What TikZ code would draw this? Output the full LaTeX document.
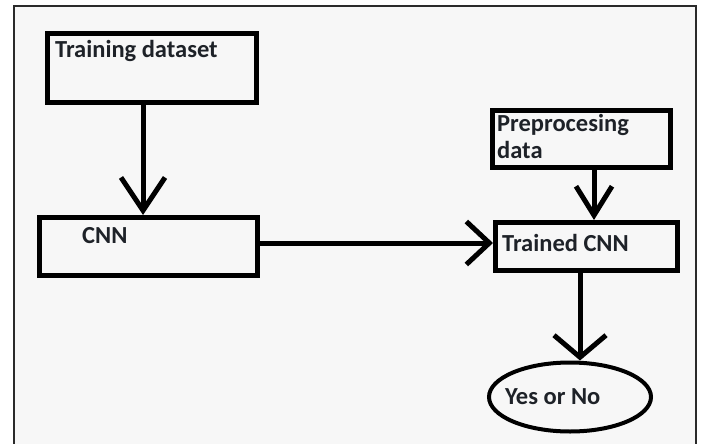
\documentclass[tikz,border=0pt]{standalone}
\usepackage{fontspec}
\setmainfont{Carlito}
\usetikzlibrary{arrows.meta,shapes.geometric}
\definecolor{bggray}{HTML}{F7F7F7}
\definecolor{framegray}{HTML}{2A2A2A}
\definecolor{txt}{HTML}{1E2228}
\tikzset{
  box/.style={draw=black, line width=5pt, rectangle, inner sep=0pt},
  oval/.style={draw=black, line width=4pt, ellipse, inner sep=0pt},
  lbl/.style={font=\bfseries\fontsize{24.5}{27}\selectfont, text=txt, inner sep=0pt, anchor=base west, align=left},
  conn/.style={line width=5pt, draw=black},
  barb/.style 2 args={-{Straight Barb[length=#1pt, width=#2pt, line width=5pt]}}
}
\begin{document}
\begin{tikzpicture}[x=1pt,y=-1pt]
\useasboundingbox (0,0) rectangle (701,444);
\fill[white] (0,0) rectangle (701,444);
\fill[bggray] (14,6) rectangle (696,444);
\draw[framegray, line width=2pt] (14,446) -- (14,6) -- (696,6) -- (696,446);

\node[box, minimum width=209pt, minimum height=68pt] (train) at (151.5,68) {};
\node[lbl] (traintext) at (55,57) {Training dataset};

\node[box, minimum width=218pt, minimum height=58pt] (cnn) at (148.5,246.5) {};
\node[lbl] (cnntext) at (82,243) {CNN};

\node[box, minimum width=178pt, minimum height=57pt] (pre) at (581.5,139) {};
\node[lbl, anchor=north west, text width=170pt] (pretext) at (497,114) {Preprocesing\\data};

\node[box, minimum width=182pt, minimum height=48pt] (trained) at (586.5,246.5) {};
\node[lbl] (trainedtext) at (502,251) {Trained CNN};

\node[oval, minimum width=162pt, minimum height=69pt] (yes) at (570,397) {};
\node[lbl] (yestext) at (505,404) {Yes or No};

\coordinate (a1) at (143,0);
\coordinate (a2) at (0,243);
\coordinate (a3) at (594,0);
\coordinate (a4) at (580,0);

\draw[conn, barb={33}{44}] (a1 |- train.south) -- (a1 |- cnn.north);
\draw[conn, barb={23}{43}] (cnn.east |- a2) -- (trained.west |- a2);
\draw[conn, barb={29}{36}] (a3 |- pre.south) -- (a3 |- trained.north);
\draw[conn, barb={22}{52}] (a4 |- trained.south) -- (a4 |- yes.north);
\end{tikzpicture}
\end{document}
